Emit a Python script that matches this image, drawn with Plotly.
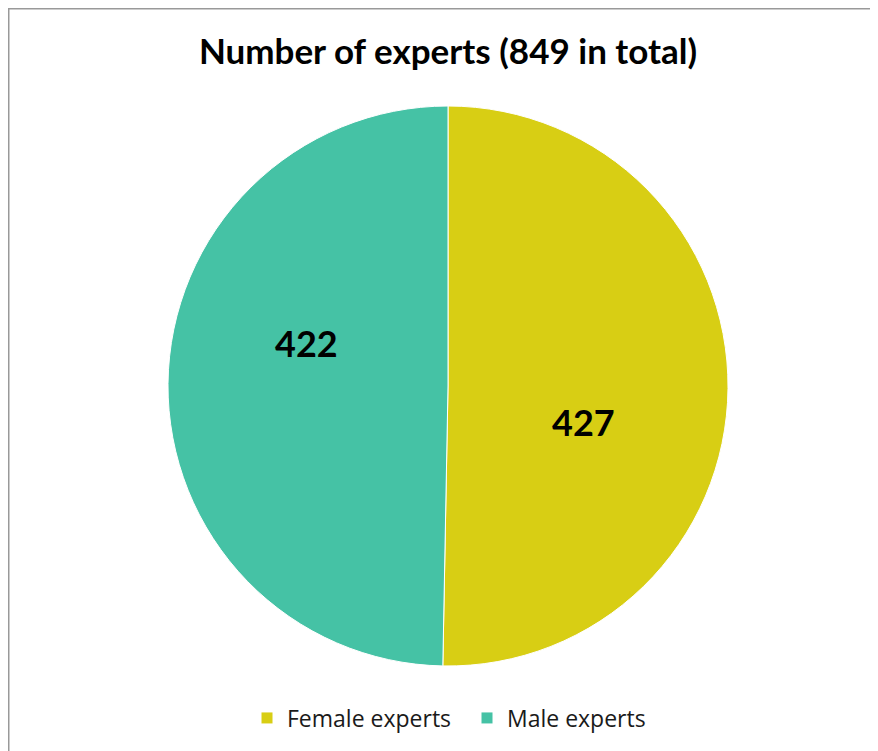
import plotly.graph_objects as go

categories = ["Female experts", "Male experts"]
values = [427, 422]
colors = ["#D8CE14", "#45C2A5"]
title_text = "Number of experts (849 in total)"

# The page body has an 8px default margin, so the figure is 8px smaller
# than the window and all pixel positions are measured from its corner.
W, H = 870, 743
cx, cy, r = 440, 378, 280

# label anchor positions (figure pixels) for the slice values
label_pos = [(575, 414), (298, 335)]

fig = go.Figure(go.Pie(
    labels=categories,
    values=values,
    sort=False,
    direction="clockwise",
    rotation=0,
    marker=dict(colors=colors, line=dict(color="white", width=1)),
    textinfo="none",
    hoverinfo="label+value",
    domain=dict(x=[(cx - r) / W, (cx + r) / W], y=[(H - cy - r) / H, (H - cy + r) / H]),
))

annotations = []
for v, (px, py) in zip(values, label_pos):
    annotations.append(dict(
        text="<b>%d</b>" % v, x=px / W, y=1 - py / H, xref="paper", yref="paper",
        xanchor="center", yanchor="middle", showarrow=False,
        font=dict(family="Lato", size=36, color="black"),
    ))

fig.update_layout(
    width=W, height=H,
    margin=dict(l=0, r=0, t=0, b=0),
    paper_bgcolor="white",
    title=dict(text="<b>" + title_text + "</b>", x=440 / W, xanchor="center",
               y=1 - 44 / H, yanchor="middle",
               font=dict(family="Lato", size=35, color="black")),
    legend=dict(orientation="h", x=459 / W, xanchor="center", y=1 - 710 / H, yanchor="middle",
                font=dict(family="Open Sans", size=23, color="#1a1a1a"),
                entrywidth=175, entrywidthmode="pixels",
                traceorder="normal"),
    annotations=annotations,
    shapes=[
        dict(type="line", xref="paper", yref="paper", x0=0.5 / W, x1=0.5 / W, y0=0, y1=1,
             line=dict(color="#999999", width=2)),
        dict(type="line", xref="paper", yref="paper", x0=0, x1=1, y0=1 - 0.5 / H, y1=1 - 0.5 / H,
             line=dict(color="#999999", width=2)),
    ],
)

fig.write_html("out.html")
